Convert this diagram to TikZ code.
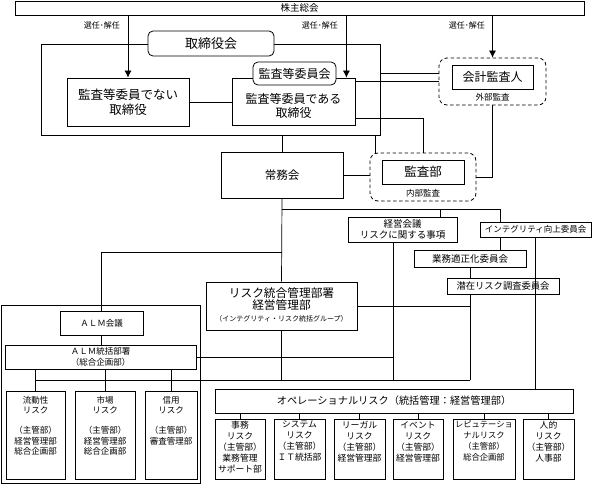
\documentclass[tikz,border=0pt]{standalone}
\usepackage{fontspec}
\setmainfont{Noto Sans CJK JP}
\usetikzlibrary{arrows.meta}
\newcommand\fsz[2]{\fontsize{#1}{#2}\selectfont}
\begin{document}
\begin{tikzpicture}[x=1pt,y=-1pt,
  box/.style={draw,line width=0.8pt,fill=white,inner sep=0pt,align=center},
  rbox/.style={box,rounded corners=5pt},
  dbox/.style={draw,line width=0.8pt,dash pattern=on 3.5pt off 2.5pt,rounded corners=8pt,inner sep=0pt},
  frame/.style={draw,line width=0.8pt,inner sep=0pt},
  txt/.style={inner sep=0pt,align=center},
  conn/.style={line width=0.7pt},
  arr/.style={conn,-{Latex[length=7pt,width=7pt]}}]
\useasboundingbox (0,0) rectangle (593,485);

% frames
\node[frame,minimum width=339pt,minimum height=91pt] (board) at (210.5,89.5) {};
\node[frame,minimum width=199pt,minimum height=178pt] (almframe) at (100.5,394) {};

% top
\node[box,minimum width=569pt,minimum height=14pt,font=\fsz{9.5}{11}] (kabu) at (299.5,8) {株主総会};
\node[rbox,minimum width=126pt,minimum height=25pt,font=\fsz{13}{15}] (torikai) at (211,43.5) {取締役会};
\node[box,minimum width=122pt,minimum height=48pt,font=\fsz{12.5}{15}] (nonkansa) at (128,102) {監査等委員でない\\取締役};
\node[box,minimum width=123pt,minimum height=47pt] (kansaT) at (293.5,101.5) {};
\node[txt,font=\fsz{12}{14}] (kansaTt) at (293.5,105.5) {監査等委員である\\取締役};
\node[rbox,minimum width=83pt,minimum height=23pt,font=\fsz{12}{14}] (kiinkai) at (294.5,73.5) {監査等委員会};

\node[dbox,minimum width=107pt,minimum height=47pt] (kaikeiO) at (492.5,81.5) {};
\node[box,minimum width=81pt,minimum height=24pt,font=\fsz{12}{14}] (kaikei) at (492.5,77) {会計監査人};
\node[txt,font=\fsz{8.5}{10}] (gaibu) at (492.5,97) {外部監査};

\node[box,minimum width=122pt,minimum height=46pt,font=\fsz{11.5}{14}] (joumu) at (282,175) {常務会};
\node[dbox,minimum width=106pt,minimum height=48pt] (kansabuO) at (423,177) {};
\node[box,minimum width=82pt,minimum height=24pt,font=\fsz{12.5}{14}] (kansabu) at (423,172) {監査部};
\node[txt,font=\fsz{8.5}{10}] (naibu) at (423,193) {内部監査};

% committees
\node[box,minimum width=109pt,minimum height=25pt,font=\fsz{9.5}{11.5}] (keiei) at (402.5,229.5) {経営会議\\リスクに関する事項};
\node[box,minimum width=111pt,minimum height=15pt,font=\fsz{8.5}{10}] (integ) at (535.5,229.5) {インテグリティ向上委員会};
\node[box,minimum width=112pt,minimum height=17pt,font=\fsz{9.5}{10}] (gyomu) at (470,258.5) {業務適正化委員会};
\node[box,minimum width=112pt,minimum height=16pt,font=\fsz{9.3}{10}] (senzai) at (503,286) {潜在リスク調査委員会};

% risk management
\node[box,minimum width=151pt,minimum height=48pt] (risk) at (281.5,306) {};
\node[txt,font=\fsz{11.7}{12}] (riskt) at (281.5,299) {リスク統合管理部署\\経営管理部};
\node[txt,font=\fsz{7}{8}] (riskg) at (281.5,318.5) {（インテグリティ・リスク統括グループ）};

% ALM
\node[box,minimum width=83pt,minimum height=24pt,font=\fsz{8.5}{10}] (almkaigi) at (101.5,323) {ＡＬＭ会議};
\node[box,minimum width=191pt,minimum height=24pt,font=\fsz{8.5}{10.5}] (almtk) at (100.5,357) {ＡＬＭ統括部署\\（総合企画部）};

\node[box,minimum width=59pt,minimum height=88pt] (ryudo) at (35.5,435) {};
\node[box,minimum width=60pt,minimum height=88pt] (shijo) at (105,435) {};
\node[box,minimum width=52pt,minimum height=88pt] (shinyo) at (171,435) {};
\node[txt,font=\fsz{8.5}{10.3},anchor=north] (ryudot) at (35.5,396) {流動性\\リスク\\[10pt]（主管部）\\経営管理部\\総合企画部};
\node[txt,font=\fsz{8.5}{10.3},anchor=north] (shijot) at (105,396) {市場\\リスク\\[10pt]（主管部）\\経営管理部\\総合企画部};
\node[txt,font=\fsz{8.5}{10.3},anchor=north] (shinyot) at (171,396) {信用\\リスク\\[10pt]（主管部）\\審査管理部};

% operational
\node[box,minimum width=358pt,minimum height=24pt,font=\fsz{10.2}{12}] (op) at (394,401) {オペレーショナルリスク（統括管理：経営管理部）};
\node[box,minimum width=50pt,minimum height=60pt] (jimu) at (240,449) {};
\node[box,minimum width=51pt,minimum height=60pt] (system) at (299.5,449) {};
\node[box,minimum width=51pt,minimum height=60pt] (legal) at (359.5,449) {};
\node[box,minimum width=50pt,minimum height=60pt] (event) at (418,449) {};
\node[box,minimum width=62pt,minimum height=60pt] (reput) at (484,449) {};
\node[box,minimum width=51pt,minimum height=60pt] (jinteki) at (548.5,449) {};
\node[txt,font=\fsz{8.8}{11},anchor=north] (jimut) at (240,421) {事務\\リスク\\（主管部）\\業務管理\\サポート部};
\node[txt,font=\fsz{8.8}{11},anchor=north] (systemt) at (299.5,421) {システム\\リスク\\（主管部）\\ＩＴ統括部};
\node[txt,font=\fsz{8.8}{11},anchor=north] (legalt) at (359.5,421) {リーガル\\リスク\\（主管部）\\経営管理部};
\node[txt,font=\fsz{8.8}{11},anchor=north] (eventt) at (418,421) {イベント\\リスク\\（主管部）\\経営管理部};
\node[txt,font=\fsz{8.3}{11},anchor=north] (reputt) at (484,421) {レピュテーショ\\ナルリスク\\（主管部）\\総合企画部};
\node[txt,font=\fsz{8.8}{11},anchor=north] (jintekit) at (548.5,421) {人的\\リスク\\（主管部）\\人事部};

% labels
\node[txt,font=\fsz{8}{9},anchor=east] (sen1) at (120,25) {選任･解任};
\node[txt,font=\fsz{8}{9},anchor=east] (sen2) at (338,25) {選任･解任};
\node[txt,font=\fsz{8}{9},anchor=east] (sen3) at (485,25) {選任･解任};

% connectors
\coordinate (k2) at ([xshift=-9pt]kansaT.north east);
\draw[arr] (kabu.south -| nonkansa.north) -- (nonkansa.north);
\draw[arr] (kabu.south -| k2) -- (k2);
\draw[arr] (kabu.south -| kaikeiO.north) -- (kaikeiO.north);

\draw[conn] (nonkansa.east) -- (nonkansa.east -| kansaT.west);
\draw[conn] (board.east |- kiinkai.east) -- (kaikeiO.west |- kiinkai.east);
\draw[conn] (kansaT.east |- kaikeiO.west) -- (kaikeiO.west);
\coordinate (k3) at ([yshift=7pt]kansaT.south east);
\draw[conn] (k3) -| (kansabuO.north);
\coordinate (bf) at ([xshift=-5pt]board.south east);
\draw[conn] (bf) -- (bf |- kansabuO.north);
\draw[conn] (joumu.north |- board.south) -- (joumu.north);
\draw[conn] (joumu.east) -- (joumu.east -| kansabuO.west);
\draw[conn] (kaikeiO.south) |- (kansabuO.east);

\draw[conn] (joumu.south) -- (risk.north);
\coordinate (j1) at ([yshift=-11pt]joumu.south);
\coordinate (i1) at ([xshift=21pt]integ.north west);
\draw[conn] (j1) -| (i1);
\coordinate (e1) at ([xshift=-17pt]keiei.north east);
\draw[conn] (e1 |- j1) -- (e1);
\coordinate (j2) at ([yshift=-54pt]joumu.south);
\draw[conn] (j2) -| (almkaigi.north);

\coordinate (e2) at ([xshift=-9.5pt]keiei.south);
\coordinate (hL) at (35.5,380);
\draw[conn] (e2) -- (e2 |- hL);
\draw[conn] (risk.south) -- (risk.south |- hL);
\draw[conn] (risk.east) -- (risk.east -| gyomu.south);
\draw[conn] (i1 |- integ.south) -- (i1 |- gyomu.north);
\draw[conn] (gyomu.south) -- (gyomu.south |- senzai.north);
\draw[conn] (gyomu.south |- senzai.south) -- (gyomu.south |- hL);
\draw[conn] (hL) -- (hL -| gyomu.south);
\draw[conn] (integ.south) -- (integ.south |- op.north);

\draw[conn] (almkaigi.south) -- (almkaigi.south |- almtk.north);
\draw[conn] (almtk.east) -- (almtk.east -| e2);
\foreach \n in {ryudo,shijo,shinyo} \draw[conn] (\n.north |- almtk.south) -- (\n.north);
\foreach \n in {jimu,system,legal,event,reput,jinteki} \draw[conn] (\n.north |- op.south) -- (\n.north);
\end{tikzpicture}
\end{document}
